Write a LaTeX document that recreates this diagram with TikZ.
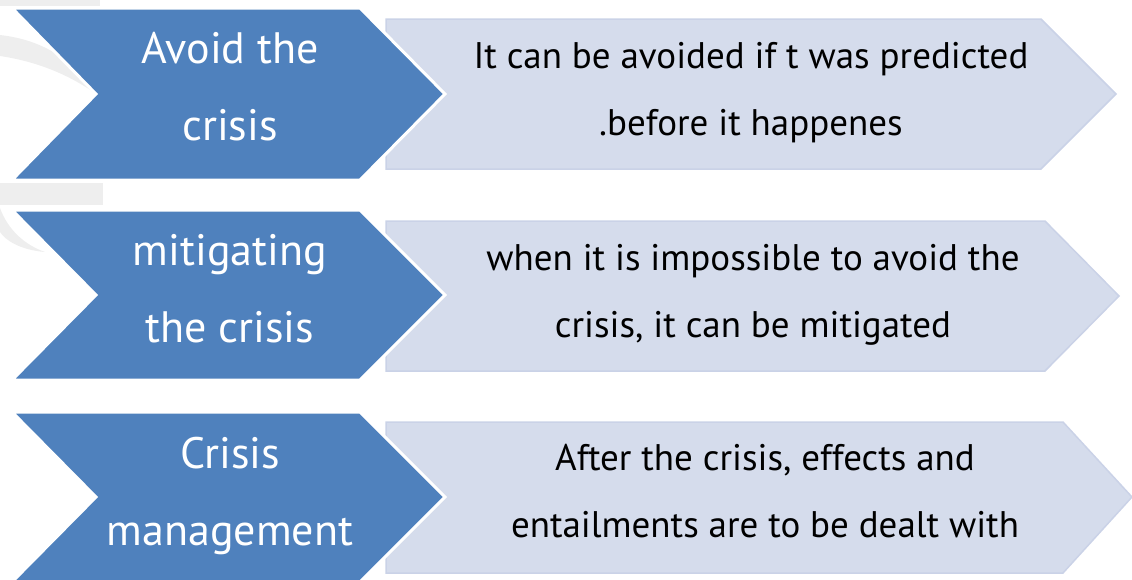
\documentclass[tikz,border=0pt]{standalone}
\usepackage{fontspec}
\setmainfont{PT Sans}
\newfontfamily\headfont{PT Sans}
\newfontfamily\bodyfont{PT Sans}

\definecolor{chevblue}{HTML}{4F81BD}
\definecolor{panelfill}{HTML}{D5DCEC}
\definecolor{panelline}{HTML}{CAD2E7}
\definecolor{ghost}{HTML}{EEEEEE}

\tikzstyle{chev} = [fill=chevblue, draw=white, line width=3pt, line join=miter]
\tikzstyle{panel} = [fill=panelfill, draw=panelline, line width=1.5pt]
\tikzstyle{head} = [text=white, align=center, inner sep=0pt, anchor=base,
    font=\headfont\fontsize{44}{77}\selectfont]
\tikzstyle{body} = [text=black, align=center, inner sep=0pt, anchor=base,
    font=\bodyfont\fontsize{37}{67}\selectfont]
\tikzstyle{shade} = [fill=ghost, draw=none]

\begin{document}
\begin{tikzpicture}[x=1pt, y=-1pt]
    \useasboundingbox (0,0) rectangle (1132,579);
    \clip (0,0) rectangle (1132,579);

    % faint background marks
    \fill [shade] (0,0) rectangle (100,6);
    \fill [shade] (0,35) .. controls (45,40) and (75,62) .. (95,93)
        .. controls (70,76) and (40,62) .. (0,56) -- cycle;
    \fill [shade] (0,183) rectangle (103,205);
    \fill [shade] (0,208) .. controls (8,230) and (25,245) .. (45,252)
        .. controls (20,250) and (5,240) .. (0,232) -- cycle;

    % row 1 (anchor base = baseline of the last line)
    \draw [panel] (386,19) -- (1041,19) -- (1116,94) -- (1041,169) -- (386,169) -- cycle;
    \draw [chev] (12,8) -- (360,8) -- (445,94) -- (360,180) -- (12,180) -- (96,94) -- cycle;
    \node [head] (avoid) at (230,140) {Avoid the\\crisis};
    \node [body] (avoidtxt) at (751,135) {It can be avoided if t was predicted\\.before it happenes};

    % row 2
    \draw [panel] (386,221) -- (1045,221) -- (1119,296) -- (1045,371) -- (386,371) -- cycle;
    \draw [chev] (12,210) -- (360,210) -- (445,295) -- (360,380) -- (12,380) -- (96,295) -- cycle;
    \node [head] (mitigate) at (230,342) {mitigating\\the crisis};
    \node [body] (mitigatetxt) at (753,337) {when it is impossible to avoid the\\crisis, it can be mitigated};

    % row 3
    \draw [panel] (386,422) -- (1063,422) -- (1132,497) -- (1063,573) -- (386,573) -- cycle;
    \draw [chev] (12,412) -- (360,412) -- (445,497) -- (360,582) -- (12,582) -- (96,497) -- cycle;
    \node [head] (manage) at (230,545) {Crisis\\management};
    \node [body] (managetxt) at (765,537) {After the crisis, effects and\\entailments are to be dealt with};

\end{tikzpicture}
\end{document}
